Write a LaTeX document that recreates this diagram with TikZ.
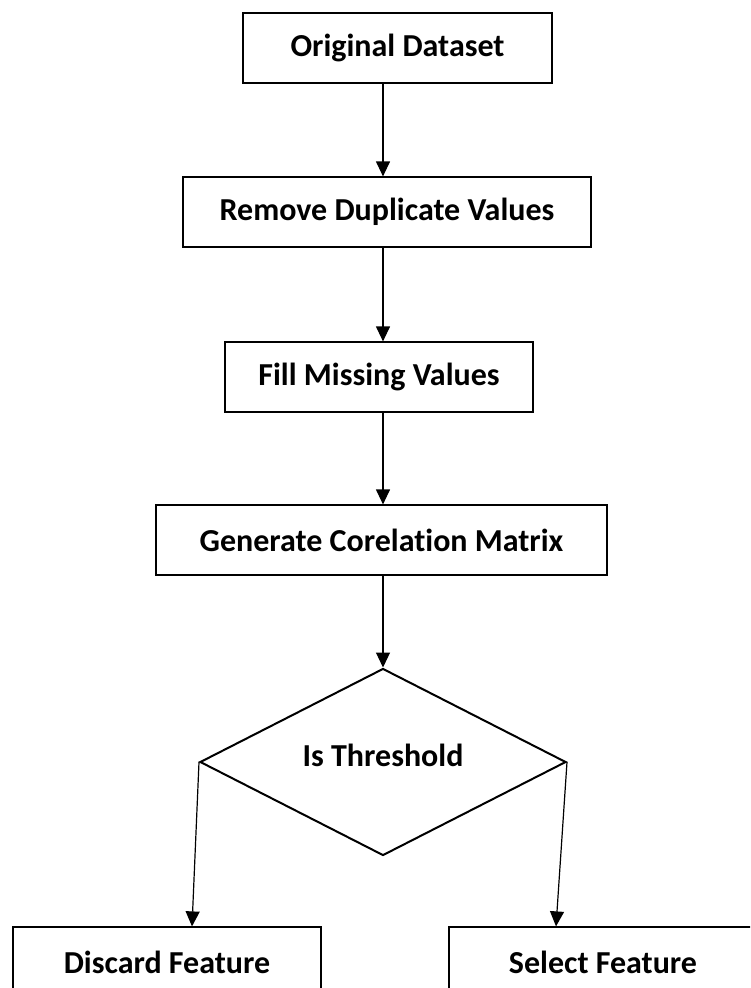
\documentclass[tikz,border=0pt]{standalone}
\usepackage{fontspec}
\setmainfont{Carlito}[Ligatures=NoCommon]
\usetikzlibrary{calc, shapes.geometric, arrows.meta}

\begin{document}
\begin{tikzpicture}[x=1pt, y=-1pt,
    box/.style={draw, line width=1.2pt, minimum height=70pt, inner sep=0pt,
        font=\fontsize{32}{38}\selectfont\bfseries},
    arr/.style={line width=1.2pt, -{Triangle[length=15pt, width=14pt]}}]
\useasboundingbox (0,0) rectangle (750,988);
\begin{scope}
\clip (0,0) rectangle (750,988);
% Boxes of the main column
\node[box, minimum width=309pt] (orig) at (397.5,48) {Original Dataset};
\node[box, minimum width=408pt] (dup) at (387,212) {Remove Duplicate Values};
\node[box, minimum width=308pt] (fill) at (379,377) {Fill Missing Values};
\node[box, minimum width=451pt] (corr) at (381.5,540) {Generate Corelation Matrix};

% Decision
\node[draw, diamond, line width=2pt, minimum width=366pt, minimum height=187pt,
    inner sep=0pt] (dia) at (383,762) {};
\node[font=\fontsize{32}{38}\selectfont\bfseries] (diatext) at (383,755) {Is Threshold};

% Outcomes
\node[box, minimum width=308pt] (discard) at (167,962) {Discard Feature};
\node[box, minimum width=308pt] (select) at (603,962) {Select Feature};

% Arrows
\draw[arr] (orig.south -| dia.north) -- (dup.north -| dia.north);
\draw[arr] (dup.south -| dia.north) -- (fill.north -| dia.north);
\draw[arr] (fill.south -| dia.north) -- (corr.north -| dia.north);
\draw[arr] (corr.south -| dia.north) -- (dia.north);
\draw[arr] (dia.west) -- ($(discard.north)+(25,0)$);
\draw[arr] (dia.east) -- ($(select.north)+(-47,0)$);
\end{scope}
\end{tikzpicture}
\end{document}
